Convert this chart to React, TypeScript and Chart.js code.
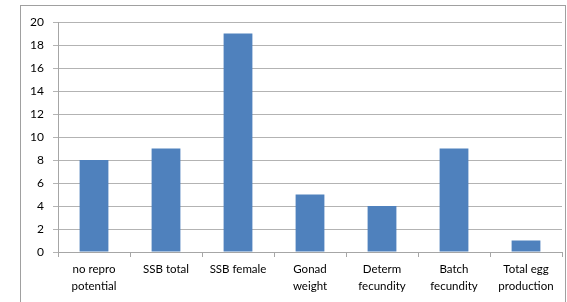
import React, { useEffect, useRef } from "react";
import { Chart, registerables } from "chart.js";

Chart.register(...registerables);

const categories: string[][] = [
  ["no repro", "potential"],
  ["SSB total"],
  ["SSB female"],
  ["Gonad", "weight"],
  ["Determ", "fecundity"],
  ["Batch", "fecundity"],
  ["Total egg", "production"],
];
const values: number[] = [8, 9, 19, 5, 4, 9, 1];
const yTicks: number[] = [0, 2, 4, 6, 8, 10, 12, 14, 16, 18, 20];

export default function App() {
  const ref = useRef<HTMLCanvasElement | null>(null);
  useEffect(() => {
    if (!ref.current) return;
    const chart = new Chart(ref.current, {
      type: "bar",
      data: {
        labels: categories,
        datasets: [
          {
            data: values,
            backgroundColor: "#4F81BD",
            borderWidth: 0,
            categoryPercentage: 1,
            barPercentage: 0.4,
          },
        ],
      },
      options: {
        responsive: false,
        animation: false,
        layout: { padding: { left: 0, right: 5, top: 22, bottom: 0 } },
        plugins: { legend: { display: false }, tooltip: { enabled: false } },
        scales: {
          x: {
            offset: true,
            grid: {
              offset: true,
              drawOnChartArea: false,
              drawTicks: true,
              tickLength: 5,
              color: "#a6a6a6",
            },
            border: { display: true, color: "#a6a6a6" },
            ticks: {
              color: "#000",
              font: { family: "Lato, 'Open Sans', sans-serif", size: 11.5, lineHeight: 1.45 },
              padding: 4,
              maxRotation: 0,
              autoSkip: false,
            },
            afterFit: (s: any) => {
              s.height = 50;
            },
          },
          y: {
            min: 0,
            max: 20,
            afterBuildTicks: (s: any) => {
              s.ticks = yTicks.map((v) => ({ value: v }));
            },
            grid: { color: "#b3b3b3", tickLength: 5 },
            border: { display: true, color: "#a6a6a6" },
            ticks: {
              color: "#000",
              font: { family: "Lato, 'Open Sans', sans-serif", size: 12 },
              padding: 9,
            },
            afterFit: (s: any) => {
              s.width = 58;
            },
          },
        },
      },
    });
    return () => chart.destroy();
  }, []);
  return (
    <div style={{ position: "fixed", left: 0, top: 0, width: 567, height: 302, background: "#fff", overflow: "hidden" }}>
      <div
        style={{
          position: "absolute",
          left: 20,
          top: 5,
          width: 546,
          height: 320,
          border: "1px solid #a0a0a0",
          boxSizing: "border-box",
        }}
      />
      <canvas ref={ref} width={567} height={302} style={{ position: "absolute", left: 0, top: 0 }} />
    </div>
  );
}
